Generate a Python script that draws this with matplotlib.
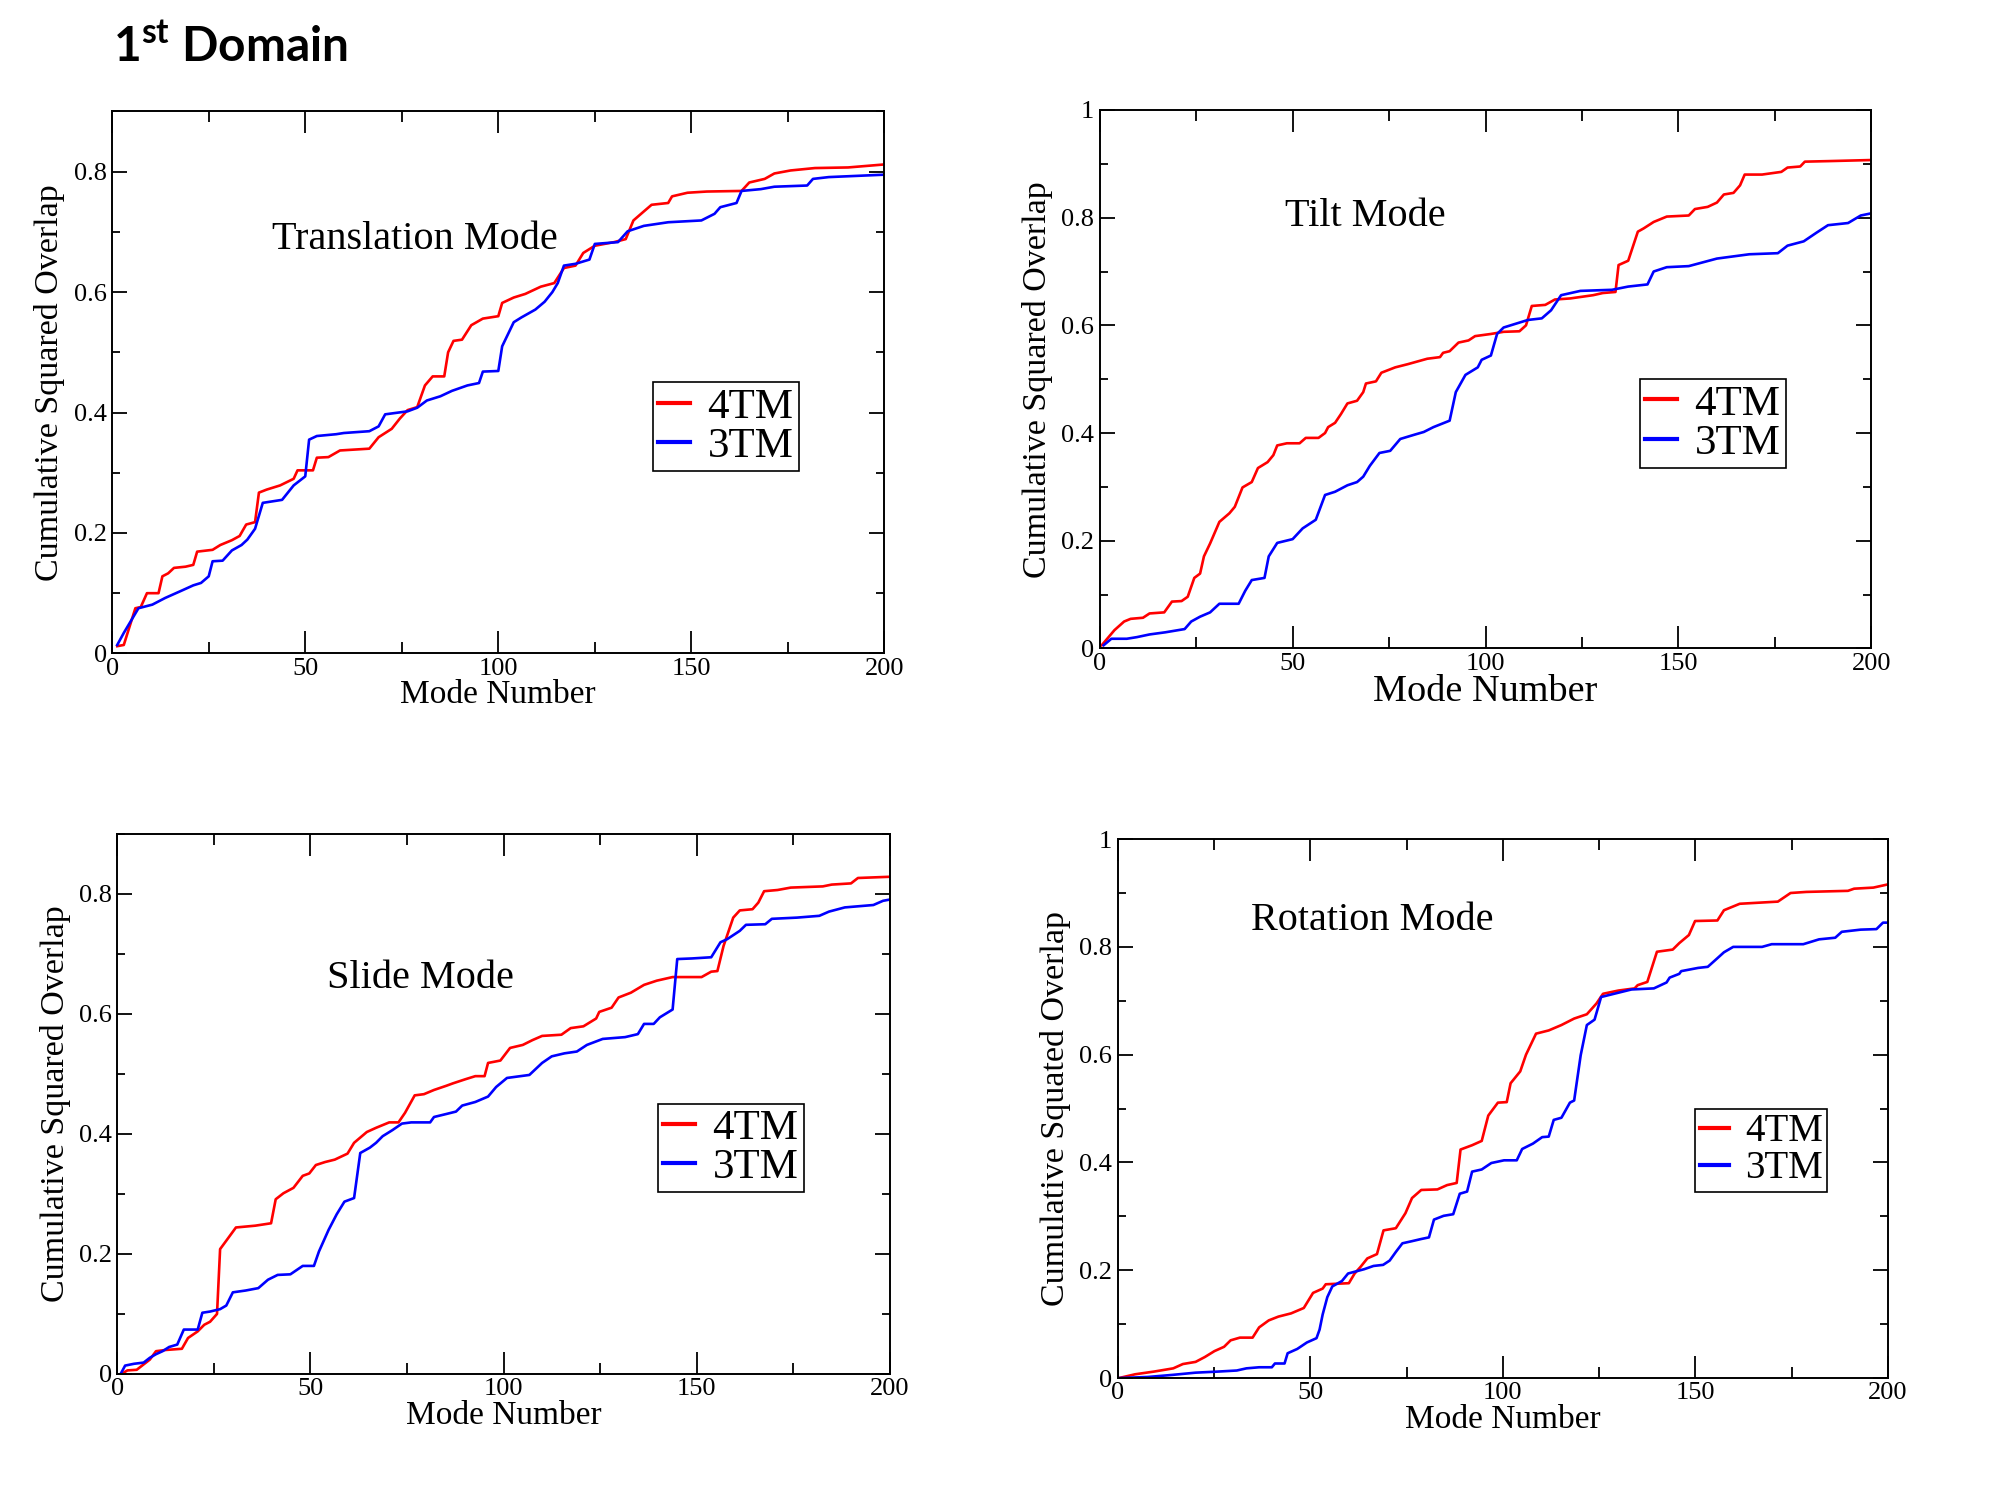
import numpy as np
import matplotlib
matplotlib.use('Agg')
import matplotlib.pyplot as plt
from matplotlib.ticker import MultipleLocator, FuncFormatter

# --- data (mode number, cumulative squared overlap) ---
trans_x_4tm = [1.3, 3, 6, 7.4, 9, 12, 13, 14.5, 16, 19, 21, 22, 26, 28, 31, 33, 34.7, 37, 38, 40, 43.5, 47, 48, 52, 53, 56, 59, 66.6, 69, 72.4, 74.5, 76.5, 79, 81, 83, 86, 87, 88.4, 90.6, 93, 96, 100, 101, 104, 107, 111, 114.5, 117, 120, 122, 125, 130, 133, 135, 137.7, 139.7, 144, 145, 149, 154, 163, 165, 169, 171.5, 175.7, 182, 190.6, 200]
trans_y_4tm = [0.012, 0.014, 0.075, 0.077, 0.10, 0.10, 0.128, 0.133, 0.142, 0.144, 0.147, 0.169, 0.172, 0.18, 0.188, 0.195, 0.214, 0.218, 0.267, 0.272, 0.279, 0.29, 0.304, 0.304, 0.325, 0.326, 0.337, 0.34, 0.359, 0.373, 0.39, 0.404, 0.409, 0.445, 0.46, 0.46, 0.5, 0.519, 0.521, 0.545, 0.556, 0.56, 0.582, 0.591, 0.597, 0.609, 0.615, 0.64, 0.644, 0.665, 0.677, 0.683, 0.688, 0.719, 0.734, 0.745, 0.748, 0.759, 0.765, 0.767, 0.768, 0.782, 0.788, 0.797, 0.802, 0.806, 0.807, 0.812]
trans_x_3tm = [1.3, 3, 6.8, 10.4, 13.7, 17.9, 21, 23, 25, 26, 28.6, 31, 33.5, 35, 37, 39, 44, 47, 50, 51, 53, 58, 60, 66.6, 69, 70.7, 76.5, 79, 81.5, 85, 88, 92, 95, 96, 100, 101, 104, 106, 109.6, 112, 114, 115.4, 117, 120, 123.6, 125, 131, 133.5, 137.7, 144, 152.6, 156, 157.5, 161.7, 163, 168, 171.5, 180, 181.5, 185.6, 200]
trans_y_3tm = [0.014, 0.034, 0.075, 0.081, 0.092, 0.104, 0.113, 0.117, 0.128, 0.153, 0.154, 0.171, 0.18, 0.189, 0.207, 0.25, 0.255, 0.279, 0.294, 0.355, 0.361, 0.364, 0.366, 0.369, 0.377, 0.397, 0.402, 0.408, 0.42, 0.427, 0.436, 0.445, 0.449, 0.468, 0.469, 0.51, 0.55, 0.558, 0.571, 0.584, 0.6, 0.615, 0.644, 0.647, 0.654, 0.68, 0.683, 0.701, 0.71, 0.716, 0.719, 0.73, 0.741, 0.748, 0.768, 0.771, 0.775, 0.777, 0.788, 0.791, 0.795]

tilt_x_4tm = [0.5, 3.8, 6.3, 8, 11.2, 12.9, 16.7, 18.7, 21.2, 22.8, 24.5, 26, 27, 28.6, 31, 33.6, 35, 37, 39.4, 41, 43.5, 45, 46, 48.5, 51.8, 53.4, 56.7, 58.4, 59.2, 61, 62.5, 64.2, 66.7, 68.3, 69, 71.6, 73, 76.6, 79.9, 82.4, 84.9, 88.2, 89, 90.7, 93, 95.6, 97.3, 101.4, 104.7, 108.8, 110.5, 112, 115.5, 118, 122, 127.9, 130.4, 133.7, 134.5, 137, 139.5, 141, 143.6, 147, 152.7, 154.3, 157.6, 160, 161.8, 164.3, 166, 167.2, 171.7, 176.7, 178.3, 181.6, 182.8, 189, 200]
tilt_y_4tm = [0.006, 0.034, 0.05, 0.055, 0.057, 0.065, 0.067, 0.087, 0.088, 0.096, 0.131, 0.139, 0.171, 0.195, 0.235, 0.251, 0.263, 0.299, 0.309, 0.335, 0.346, 0.359, 0.377, 0.381, 0.381, 0.391, 0.391, 0.4, 0.411, 0.419, 0.435, 0.455, 0.46, 0.476, 0.492, 0.496, 0.512, 0.522, 0.528, 0.533, 0.538, 0.541, 0.549, 0.552, 0.568, 0.572, 0.58, 0.584, 0.588, 0.589, 0.6, 0.636, 0.638, 0.648, 0.65, 0.656, 0.66, 0.662, 0.712, 0.72, 0.774, 0.78, 0.792, 0.802, 0.804, 0.816, 0.82, 0.828, 0.843, 0.846, 0.86, 0.88, 0.88, 0.885, 0.893, 0.895, 0.904, 0.905, 0.907]
tilt_x_3tm = [1, 3, 7, 9.6, 12.9, 17, 22, 23.7, 26, 28.6, 31, 36, 37.7, 39.4, 42.7, 43.8, 46, 50, 52.6, 56, 58.4, 61, 64.2, 66.7, 68.3, 70, 72.5, 75.3, 77.9, 81.6, 84, 86.5, 90.7, 92.3, 94.8, 98, 99, 101.4, 103, 104.7, 111, 114.6, 117, 119.6, 124.6, 132.8, 137, 142, 143.6, 147, 152.7, 160, 168.4, 175.8, 178.3, 182.5, 185.8, 188.8, 194, 197.3, 200]
tilt_y_3tm = [0.006, 0.018, 0.018, 0.021, 0.026, 0.03, 0.036, 0.05, 0.059, 0.067, 0.083, 0.083, 0.107, 0.127, 0.131, 0.171, 0.196, 0.203, 0.223, 0.239, 0.285, 0.291, 0.303, 0.309, 0.319, 0.339, 0.363, 0.367, 0.389, 0.397, 0.402, 0.411, 0.423, 0.476, 0.508, 0.522, 0.536, 0.544, 0.584, 0.596, 0.61, 0.613, 0.628, 0.656, 0.664, 0.666, 0.672, 0.676, 0.7, 0.708, 0.71, 0.724, 0.732, 0.734, 0.748, 0.756, 0.772, 0.786, 0.79, 0.804, 0.808]

slide_x_4tm = [1, 2.6, 5, 8.4, 10, 12.5, 16.7, 18.3, 20.8, 22.5, 24, 25.8, 26.6, 28.2, 30.7, 35.7, 39.8, 41, 43, 45.6, 48, 49.7, 51.4, 53.8, 56.3, 59.6, 61.3, 64.6, 67, 70.4, 72.8, 74.5, 77, 79.4, 82, 85.2, 86.9, 90.2, 92.7, 95.1, 96, 99.2, 101.7, 105, 107.5, 110, 115, 117.4, 120.7, 124, 124.8, 128, 129.8, 133, 136.4, 139.7, 143.8, 151.3, 153.8, 155.4, 157, 159.5, 161.2, 164.5, 166, 167.5, 171, 174.4, 182.7, 185, 190, 191.8, 200]
slide_y_4tm = [0.0, 0.006, 0.007, 0.024, 0.038, 0.04, 0.042, 0.06, 0.071, 0.082, 0.087, 0.1, 0.208, 0.222, 0.244, 0.247, 0.251, 0.291, 0.301, 0.31, 0.33, 0.334, 0.348, 0.353, 0.357, 0.367, 0.385, 0.403, 0.41, 0.419, 0.419, 0.435, 0.464, 0.466, 0.473, 0.48, 0.484, 0.491, 0.496, 0.496, 0.518, 0.522, 0.543, 0.548, 0.556, 0.563, 0.565, 0.576, 0.579, 0.592, 0.603, 0.61, 0.627, 0.635, 0.648, 0.655, 0.661, 0.661, 0.67, 0.671, 0.713, 0.76, 0.772, 0.774, 0.785, 0.804, 0.806, 0.81, 0.812, 0.815, 0.817, 0.826, 0.828]
slide_x_3tm = [1, 2, 4.3, 6.8, 8.4, 10, 11.7, 13.4, 15.5, 17.2, 20.8, 22, 24, 26.6, 28.2, 29.9, 33.2, 36.5, 39, 41.5, 44.8, 48, 50.9, 52.2, 54.7, 56.8, 58.8, 61.3, 62.9, 65.4, 67, 68.7, 71.2, 73.7, 76.1, 81, 82, 85.2, 87.7, 89.3, 92.7, 96, 98.1, 100.9, 106.7, 110, 112.5, 115.8, 119, 121.6, 125.7, 131.5, 134.8, 136.4, 138.9, 140.5, 143.8, 145, 148.8, 153.8, 156.2, 157.9, 161.2, 162.8, 167.8, 169.5, 176, 181.8, 184.3, 188.4, 195.8, 198.3, 200]
slide_y_3tm = [0.002, 0.014, 0.017, 0.019, 0.027, 0.033, 0.038, 0.045, 0.049, 0.074, 0.074, 0.102, 0.104, 0.108, 0.114, 0.136, 0.139, 0.143, 0.157, 0.165, 0.166, 0.18, 0.18, 0.204, 0.24, 0.266, 0.287, 0.293, 0.368, 0.377, 0.385, 0.396, 0.406, 0.417, 0.419, 0.419, 0.428, 0.433, 0.437, 0.447, 0.453, 0.462, 0.478, 0.493, 0.498, 0.518, 0.529, 0.534, 0.537, 0.548, 0.558, 0.561, 0.566, 0.583, 0.583, 0.594, 0.607, 0.691, 0.692, 0.694, 0.719, 0.724, 0.738, 0.748, 0.749, 0.758, 0.76, 0.763, 0.77, 0.777, 0.781, 0.788, 0.79]

rot_x_4tm = [0.3, 4.5, 9.4, 14.4, 16.9, 20.2, 22.6, 25.1, 27.6, 29.3, 31.7, 35, 36.7, 39.2, 41.7, 45, 48.3, 50.7, 53.2, 54, 60, 61.5, 63, 64.8, 67.3, 69, 72.2, 74.7, 76.4, 78.8, 83, 85.5, 88, 89, 92, 94.5, 96.2, 98.7, 101, 102, 104.5, 106, 108.6, 111.9, 115.2, 118.5, 121.8, 124.3, 126, 130, 134.2, 135, 137.5, 140, 144.1, 145.8, 148.3, 149.9, 155.7, 157.4, 161.5, 171.4, 174.7, 178.8, 189.6, 191.2, 196.2, 200]
rot_y_4tm = [0.0, 0.007, 0.012, 0.018, 0.026, 0.03, 0.039, 0.05, 0.058, 0.07, 0.075, 0.075, 0.094, 0.107, 0.114, 0.12, 0.13, 0.158, 0.166, 0.174, 0.176, 0.194, 0.206, 0.222, 0.23, 0.274, 0.278, 0.306, 0.334, 0.349, 0.35, 0.358, 0.362, 0.424, 0.432, 0.44, 0.487, 0.511, 0.512, 0.547, 0.569, 0.6, 0.639, 0.645, 0.655, 0.667, 0.675, 0.695, 0.713, 0.719, 0.723, 0.729, 0.735, 0.791, 0.795, 0.807, 0.822, 0.848, 0.849, 0.868, 0.88, 0.884, 0.9, 0.902, 0.904, 0.908, 0.91, 0.916]
rot_x_3tm = [0.3, 7.8, 14.4, 20.2, 26, 30.9, 33.4, 36.7, 40, 40.8, 43.3, 44.1, 46.6, 49.1, 51.6, 52.4, 53.2, 54.4, 55.7, 58.2, 59.8, 64, 66.4, 68.9, 70.6, 72.2, 73.9, 76.4, 78.8, 80.8, 82.1, 84.6, 87.1, 88.8, 90.7, 92, 94.5, 97, 100.3, 103.6, 105, 107.8, 110.2, 111.9, 113.2, 115.2, 117.4, 118.5, 120.2, 121.8, 123.8, 125.5, 130, 133.4, 139.2, 142.5, 143.3, 145.8, 146.3, 150.7, 153.2, 155.7, 157.4, 159.8, 167.3, 169.8, 178, 182.1, 186.3, 188, 192.9, 197, 198.7, 200]
rot_y_3tm = [0.0, 0.002, 0.006, 0.01, 0.012, 0.014, 0.018, 0.02, 0.02, 0.027, 0.027, 0.046, 0.054, 0.066, 0.074, 0.09, 0.118, 0.15, 0.17, 0.18, 0.194, 0.202, 0.208, 0.21, 0.218, 0.234, 0.25, 0.254, 0.258, 0.261, 0.294, 0.301, 0.304, 0.342, 0.346, 0.383, 0.387, 0.399, 0.404, 0.404, 0.425, 0.435, 0.447, 0.448, 0.479, 0.483, 0.511, 0.515, 0.599, 0.655, 0.665, 0.707, 0.715, 0.721, 0.723, 0.734, 0.743, 0.75, 0.755, 0.761, 0.763, 0.779, 0.79, 0.8, 0.8, 0.805, 0.805, 0.814, 0.817, 0.828, 0.832, 0.833, 0.845, 0.845]

series_labels = ['4TM', '3TM']
series_colors = ['#ff0000', '#0000ff']

plt.rcParams['font.family'] = ['Liberation Serif', 'DejaVu Serif']
plt.rcParams['mathtext.fontset'] = 'custom'
plt.rcParams['mathtext.bf'] = 'Lato:bold'
plt.rcParams['mathtext.rm'] = 'Lato'

fig = plt.figure(figsize=(20, 15), dpi=100)

# (axes rect, ymax, mode title, title pos, ylabel, xlabel size, legend x, legend size)
panels = [
    ([0.0561, 0.5644, 0.3861, 0.3613], 0.9, 'Translation Mode', (0.392, 0.764),
     'Cumulative Squared Overlap', 24, 0.70, 31,
     (trans_x_4tm, trans_y_4tm), (trans_x_3tm, trans_y_3tm)),
    ([0.5499, 0.5677, 0.3857, 0.3590], 1.0, 'Tilt Mode', (0.344, 0.803),
     'Cumulative Squared Overlap', 27.5, 0.70, 31,
     (tilt_x_4tm, tilt_y_4tm), (tilt_x_3tm, tilt_y_3tm)),
    ([0.0587, 0.0840, 0.3861, 0.3603], 0.9, 'Slide Mode', (0.393, 0.731),
     'Cumulative Squared Overlap', 24, 0.70, 31,
     (slide_x_4tm, slide_y_4tm), (slide_x_3tm, slide_y_3tm)),
    ([0.5589, 0.0813, 0.3851, 0.3593], 1.0, 'Rotation Mode', (0.331, 0.849),
     'Cumulative Squated Overlap', 24, 0.75, 28,
     (rot_x_4tm, rot_y_4tm), (rot_x_3tm, rot_y_3tm)),
]

fmt = FuncFormatter(lambda v, pos: '%g' % round(v, 3))

for rect, ymax, mode, tpos, ylab, xls, legx, legfs, s4, s3 in panels:
    ax = fig.add_axes(rect)
    for (xs, ys), lab, col in zip([s4, s3], series_labels, series_colors):
        ax.plot(xs, ys, color=col, lw=1.9, label=lab)
    ax.set_xlim(0, 200)
    ax.set_ylim(0, ymax)
    ax.xaxis.set_major_locator(MultipleLocator(50))
    ax.xaxis.set_minor_locator(MultipleLocator(25))
    ax.yaxis.set_major_locator(MultipleLocator(0.2))
    ax.yaxis.set_minor_locator(MultipleLocator(0.1))
    ax.xaxis.set_major_formatter(fmt)
    ax.yaxis.set_major_formatter(fmt)
    ax.tick_params(which='both', direction='in', top=True, right=True, width=1.3, labelsize=19)
    ax.tick_params(axis='x', which='major', length=16, pad=3)
    ax.tick_params(axis='x', which='minor', length=8)
    ax.tick_params(axis='y', which='major', length=11, pad=4)
    ax.tick_params(axis='y', which='minor', length=6)
    for sp in ax.spines.values():
        sp.set_linewidth(1.4)
    ax.set_xlabel('Mode Number', fontsize=xls, labelpad=0)
    ax.set_ylabel(ylab, fontsize=24.5, labelpad=6)
    ax.text(tpos[0], tpos[1], mode, transform=ax.transAxes, fontsize=29,
            ha='center', va='center')
    leg = ax.legend(loc='upper left', bbox_to_anchor=(legx, 0.5), fontsize=legfs,
                    frameon=True, fancybox=False, edgecolor='black', framealpha=1,
                    handlelength=0.75, handletextpad=0.4, borderpad=0.12,
                    labelspacing=0.0, borderaxespad=0)
    leg.get_frame().set_linewidth(1.2)
    for h in leg.get_lines():
        h.set_linewidth(3)

fig.text(0.0565, 0.958, r'1$^{\mathbf{st}}$ Domain', fontsize=34.5, fontweight='bold',
         family=['Lato', 'DejaVu Sans'], ha='left', va='baseline')

fig.savefig('out.png', dpi=100)
